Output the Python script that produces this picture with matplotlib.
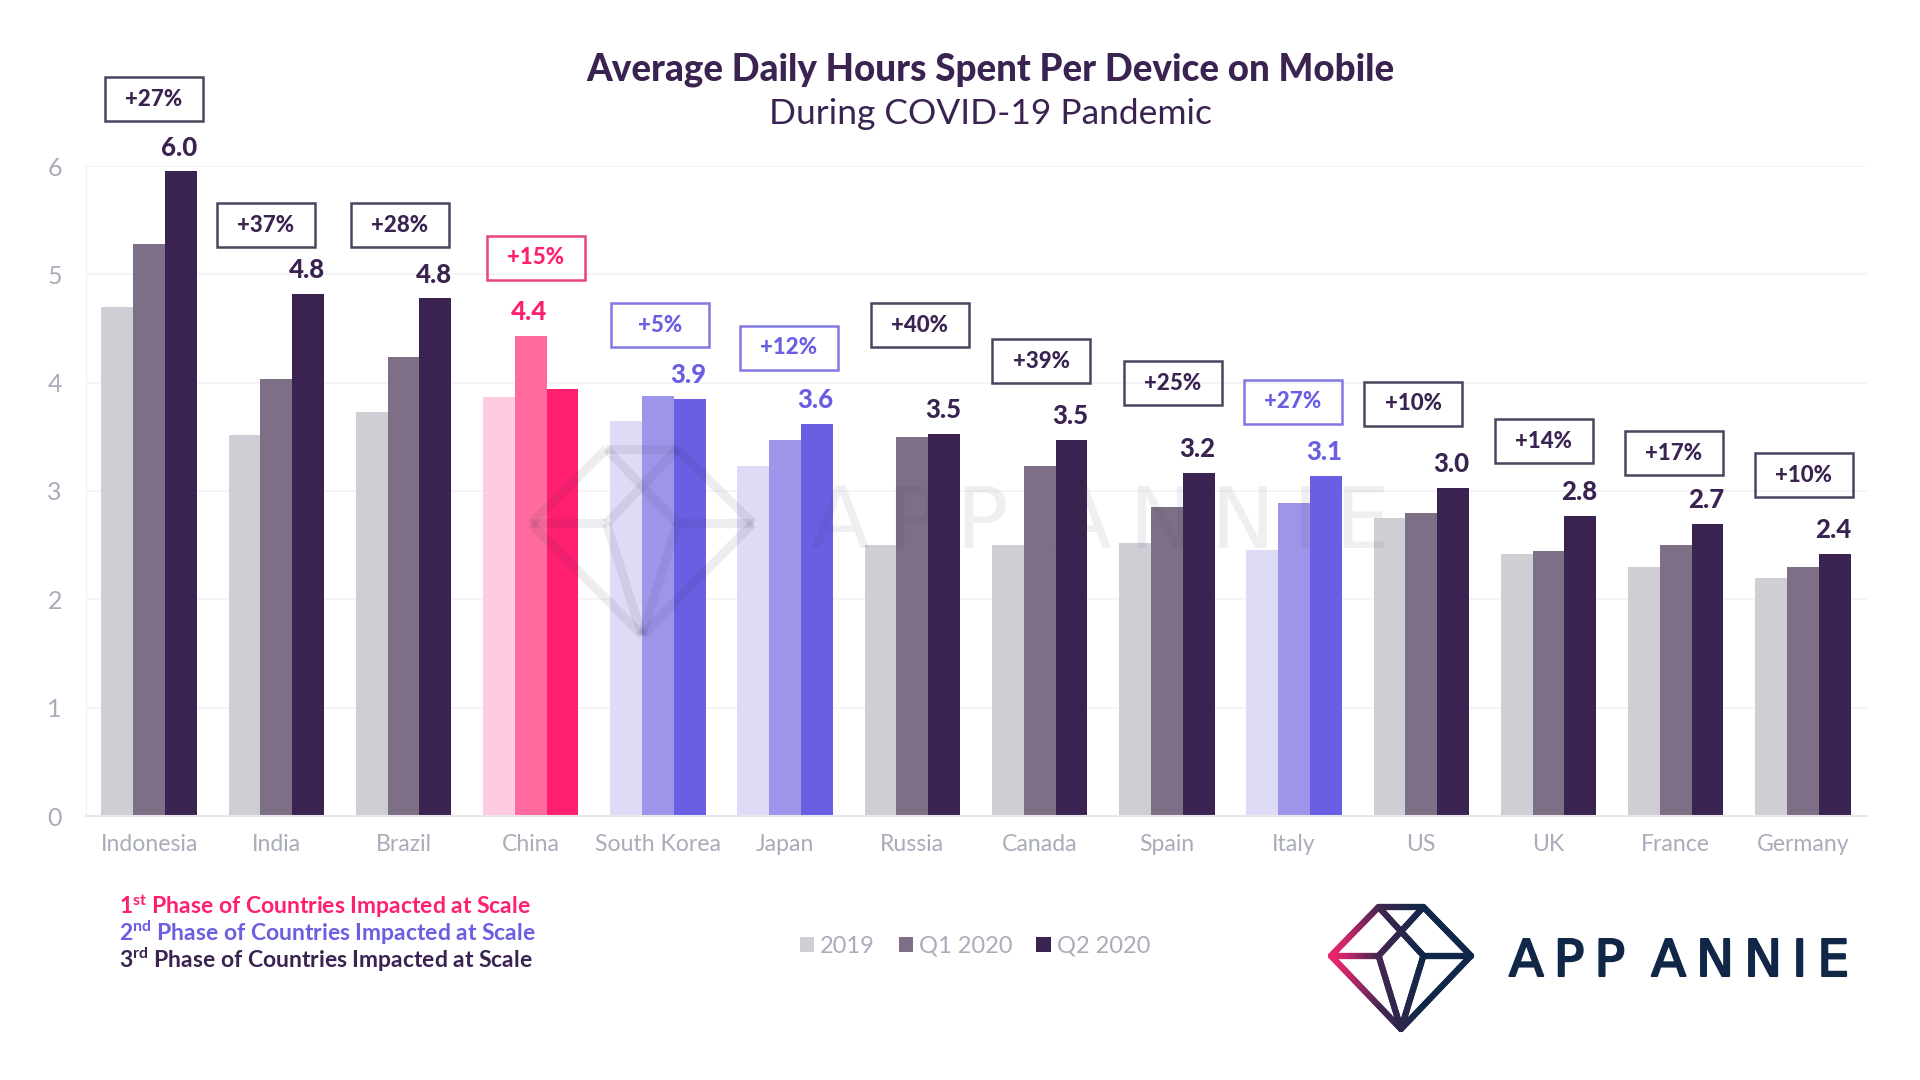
import numpy as np
import matplotlib
matplotlib.use('Agg')
import matplotlib.pyplot as plt
import matplotlib.patheffects as pe
from matplotlib.collections import LineCollection
from matplotlib.colors import LinearSegmentedColormap
from matplotlib.patches import Rectangle
from matplotlib.transforms import Affine2D

plt.rcParams['font.family'] = ['Lato', 'DejaVu Sans']
plt.rcParams['mathtext.fontset'] = 'custom'
plt.rcParams['mathtext.bf'] = 'Lato:bold'
plt.rcParams['mathtext.rm'] = 'Lato'
plt.rcParams['mathtext.default'] = 'regular'

# values
countries = ['Indonesia', 'India', 'Brazil', 'China', 'South Korea', 'Japan', 'Russia',
             'Canada', 'Spain', 'Italy', 'US', 'UK', 'France', 'Germany']
values_2019 = [4.70, 3.52, 3.73, 3.87, 3.65, 3.23, 2.50, 2.50, 2.52, 2.46, 2.75, 2.42, 2.30, 2.20]
values_q1 = [5.28, 4.03, 4.24, 4.43, 3.88, 3.47, 3.50, 3.23, 2.85, 2.89, 2.80, 2.45, 2.50, 2.30]
values_q2 = [5.95, 4.82, 4.78, 3.94, 3.85, 3.62, 3.53, 3.47, 3.17, 3.14, 3.03, 2.77, 2.70, 2.42]
value_labels = ['6.0', '4.8', '4.8', '4.4', '3.9', '3.6', '3.5', '3.5', '3.2', '3.1', '3.0', '2.8', '2.7', '2.4']
growth_labels = ['+27%', '+37%', '+28%', '+15%', '+5%', '+12%', '+40%', '+39%', '+25%', '+27%',
                 '+10%', '+14%', '+17%', '+10%']
phases = [3, 3, 3, 1, 2, 2, 3, 3, 3, 2, 3, 3, 3, 3]

# layout: centre of the growth boxes in image pixels
box_x = [154, 266, 400, 536, 660, 789, 920, 1041, 1173, 1293, 1413, 1544, 1674, 1804]
box_y = [99, 225, 225, 258, 325, 348, 325, 361, 383, 402, 404, 441, 453, 475]

dark = {1: '#ff1f70', 2: '#6a5ee3', 3: '#3a2350'}
mid = {1: '#ff6b9e', 2: '#9d95ea', 3: '#7d6f86'}
light = {1: '#ffcbe0', 2: '#dedbf7', 3: '#d0ced5'}
box_edge = {1: '#e8447f', 2: '#8078e0', 3: '#4d4460'}
grey_text = '#a9acb9'

fig = plt.figure(figsize=(19.2, 10.8), dpi=100)
px = Affine2D().scale(1 / 1920, -1 / 1080).translate(0, 1) + fig.transFigure

ax = fig.add_axes([85.5 / 1920, 1 - 816 / 1080, 1781 / 1920, 650 / 1080])
x = np.arange(len(countries))
width = 0.25
b1 = ax.bar(x - width, values_2019, width, color=[light[p] for p in phases], label='2019', zorder=2)
b2 = ax.bar(x, values_q1, width, color=[mid[p] for p in phases], label='Q1 2020', zorder=2)
b3 = ax.bar(x + width, values_q2, width, color=[dark[p] for p in phases], label='Q2 2020', zorder=2)

ax.set_xlim(-0.5, 13.5)
ax.set_ylim(0, 6)
ax.set_yticks(range(7))
ax.set_xticks(x)
ax.set_xticklabels(countries)
ax.tick_params(axis='x', length=0, pad=13, labelsize=16.6, labelcolor=grey_text)
ax.tick_params(axis='y', length=0, pad=17, labelsize=18, labelcolor=grey_text)
for t in ax.get_yticklabels():
    t.set_verticalalignment('center_baseline')
ax.grid(axis='y', color='#f4f4f7', lw=1.2, zorder=0)
ax.set_axisbelow(True)
for s in ['top', 'right']:
    ax.spines[s].set_visible(False)
ax.spines['left'].set_color('#f1f1f4')
ax.spines['bottom'].set_color('#e8e8ec')
ax.spines['bottom'].set_linewidth(1.5)

# value above the Q2 bar, China carries it on the Q1 bar
for i, label in enumerate(value_labels):
    if phases[i] == 1:
        xpos, top = x[i], values_q1[i]
    else:
        xpos, top = x[i] + width, values_q2[i]
    ax.annotate(label, xy=(xpos, top), xytext=(-1, 17), textcoords='offset points',
                ha='center', va='center', fontsize=18.5, fontweight='black',
                color=dark[phases[i]], zorder=5)

# growth boxes
for i, label in enumerate(growth_labels):
    fig.add_artist(Rectangle((box_x[i] - 49, box_y[i] - 22), 98, 44, transform=px, fill=False,
                             edgecolor=box_edge[phases[i]], lw=1.8))
    fig.text(box_x[i], box_y[i], label, transform=px, ha='center', va='center', fontsize=16,
             fontweight='black', color=dark[phases[i]])

# titles
fig.text(990.5, 69.5, 'Average Daily Hours Spent Per Device on Mobile', transform=px, ha='center', va='center',
         fontsize=26.5, fontweight='black', color='#3a2350')
fig.text(990, 114.5, 'During COVID-19 Pandemic', transform=px, ha='center', va='center',
         fontsize=25.5, color='#3a2350')

# phase notes
fig.text(119, 906, r'1$^{\mathbf{st}}$ Phase of Countries Impacted at Scale', transform=px, va='center',
         fontsize=16.5, fontweight='bold', color=dark[1])
fig.text(119, 933, r'2$^{\mathbf{nd}}$ Phase of Countries Impacted at Scale', transform=px, va='center',
         fontsize=16.5, fontweight='bold', color=dark[2])
fig.text(119, 960, r'3$^{\mathbf{rd}}$ Phase of Countries Impacted at Scale', transform=px, va='center',
         fontsize=16.5, fontweight='bold', color=dark[3])

# legend, first bar of each series has the neutral colour family
handles = [b1[0], b2[0], b3[0]]
fig.legend(handles, ['2019', 'Q1 2020', 'Q2 2020'], ncol=3, frameon=False, loc='center',
           bbox_to_anchor=(975 / 1920, 1 - 946.5 / 1080), fontsize=17, labelcolor=grey_text,
           handlelength=0.62, handleheight=0.62, handletextpad=0.25, columnspacing=1.0)


def diamond_edges(left, right, top, bottom):
    # logo outline and facets, unit square scaled to the box
    p = {'L': (0, .4), 'TL': (.34, 0), 'TR': (.66, 0), 'R': (1, .4), 'B': (.5, 1),
         'KL': (.34, .4), 'KR': (.66, .4)}
    edges = [('L', 'TL'), ('TL', 'TR'), ('TR', 'R'), ('R', 'B'), ('B', 'L'), ('L', 'KL'),
             ('KR', 'R'), ('TL', 'KR'), ('TR', 'KL'), ('KL', 'B'), ('KR', 'B')]
    w, h = right - left, bottom - top
    return [[(left + w * p[a][0], top + h * p[a][1]), (left + w * p[b][0], top + h * p[b][1])]
            for a, b in edges]


def split_edges(edges, n=30):
    # short pieces so each one can take its own colour
    segs = []
    for (x0, y0), (x1, y1) in edges:
        xs, ys = np.linspace(x0, x1, n), np.linspace(y0, y1, n)
        segs += [[(xs[k], ys[k]), (xs[k + 1], ys[k + 1])] for k in range(n - 1)]
    return segs


# watermark on top of the bars
fig.add_artist(LineCollection(diamond_edges(531, 753, 449, 635), colors='#3a3550', linewidths=6.5,
                              alpha=0.09, transform=px, capstyle='butt', zorder=6))
fig.text(1100, 524, 'A\u2009P\u2009P\u2009 A\u2009N\u2009N\u2009I\u2009E', transform=px, ha='center', va='center',
         fontsize=62, color='#3a3550', alpha=0.08, family='DejaVu Sans', zorder=6)

# logo
cmap = LinearSegmentedColormap.from_list('logo', [(0, '#f0246e'), (.12, '#c8276a'), (.35, '#43264f'),
                                                  (.65, '#102748'), (1, '#102748')])
segs = split_edges(diamond_edges(1331, 1471, 907, 1029))
pos = [(s[0][0] - 1331) / 140 for s in segs]
fig.add_artist(LineCollection(segs, colors=cmap(pos), linewidths=4.5, transform=px, capstyle='round'))
fig.text(1509, 962, 'A\u2009P\u2009P\u2009 A\u2009N\u2009N\u2009I\u2009E', transform=px, va='center',
         fontsize=36.5, color='#102748', family='DejaVu Sans',
         path_effects=[pe.withStroke(linewidth=1.5, foreground='#102748')])

plt.savefig('out.png', dpi=100)
